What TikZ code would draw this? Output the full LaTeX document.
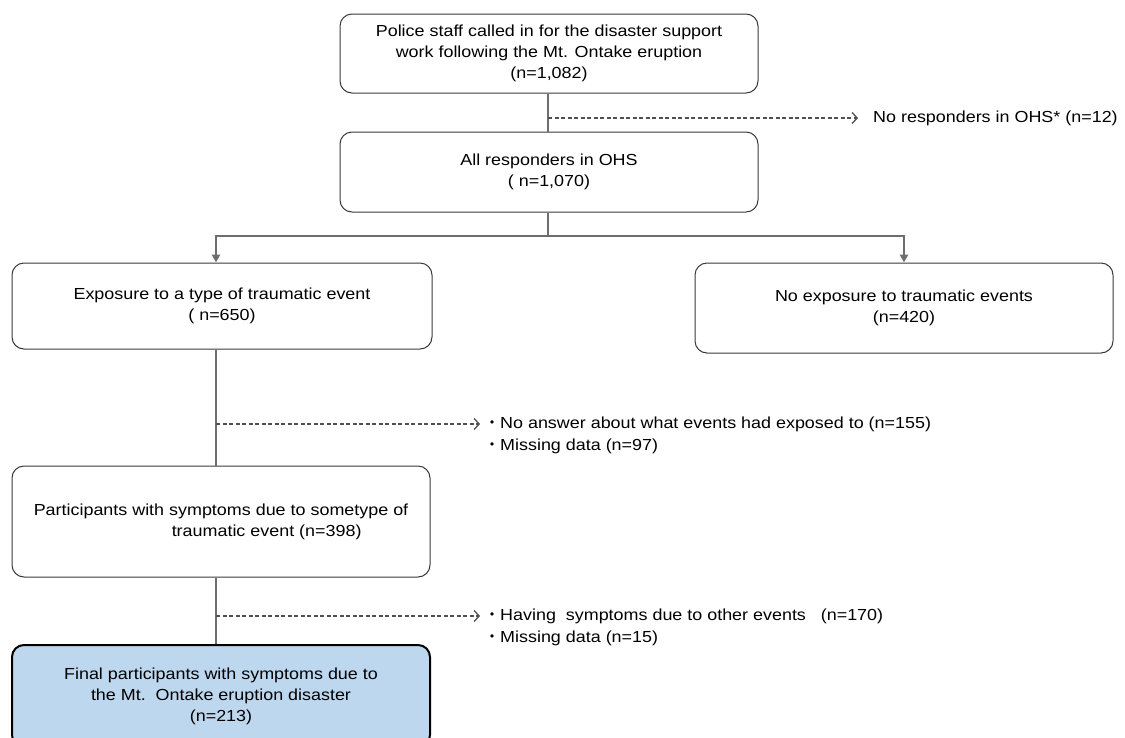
\documentclass[tikz,border=0pt]{standalone}
\usepackage{fontspec}
\setmainfont[FakeStretch=1.12]{Liberation Sans}
\newfontfamily\cjk{Noto Sans CJK JP}
\usetikzlibrary{arrows.meta}
\definecolor{conn}{HTML}{6E6E6E}
\definecolor{dconn}{HTML}{505050}
\definecolor{boxline}{HTML}{3A3A3A}
\definecolor{finalfill}{HTML}{BDD7EE}
\newcommand{\bul}{{\cjk ・}}
\tikzset{
  x=1pt, y=-1pt,
  every node/.style={font=\fontsize{16}{21}\selectfont, inner sep=0pt},
  box/.style={draw=boxline, line width=1pt, rounded corners=12pt, align=center, fill=white},
  finalbox/.style={box, draw=black, line width=2pt, fill=finalfill},
  solidconn/.style={draw=conn, line width=2pt},
  solidarr/.style={solidconn, -{Triangle[length=8pt,width=8pt]}},
  dashconn/.style={draw=dconn, line width=1.3pt, dash pattern=on 4pt off 2.5pt, -{Straight Barb[length=5pt,width=11pt,line width=1.3pt]}},
  note/.style={anchor=west, align=left},
}
\begin{document}
\begin{tikzpicture}
\useasboundingbox (0,0) rectangle (1125,737);
\clip (0,0) rectangle (1125,737);
% boxes
\node[box, minimum width=418pt, minimum height=79pt] (b1) at (549,53.5)
  {Police staff called in for the disaster support\\work following the Mt. Ontake eruption\\(n=1,082)};
\node[box, minimum width=418pt, minimum height=80pt] (b2) at (549,172)
  {All responders in OHS\\( n=1,070)};
\node[box, minimum width=420pt, minimum height=86pt] (b3) at (222,306)
  {Exposure to a type of traumatic event\\( n=650)};
\node[box, minimum width=418pt, minimum height=90pt] (b4) at (904,308)
  {No exposure to traumatic events\\(n=420)};
\node[box, minimum width=418pt, minimum height=111pt, align=left] (b5) at (221,521.5)
  {Participants with symptoms due to sometype of\\\hspace*{138pt}traumatic event (n=398)};
\node[finalbox, minimum width=418pt, minimum height=102pt] (b6) at (221,696)
  {Final participants with symptoms due to\\the Mt.\ \ Ontake eruption disaster\\(n=213)};
% reference coordinates
\coordinate (spine) at (216,0);
\coordinate (j) at (548,236);
\coordinate (d1) at (548,118);
\coordinate (e1) at (858,118);
\coordinate (d2) at (216,424);
\coordinate (e2) at (480,424);
\coordinate (d3) at (216,616);
\coordinate (e3) at (480,616);
% notes
\node[note] (n1) at (873,118) {No responders in OHS* (n=12)};
\node[note] (n2) at (484,424) {\bul No answer about what events had exposed to (n=155)};
\node[note] (n3) at (484,446) {\bul Missing data (n=97)};
\node[note] (n4) at (484,616) {\bul Having\ \ symptoms due to other events\ \ \ (n=170)};
\node[note] (n5) at (484,638) {\bul Missing data (n=15)};
% connectors
\draw[solidconn] (b1.south -| j) -- (b2.north -| j);
\draw[dashconn] (d1) -- (e1);
\draw[solidconn] (b2.south -| j) -- (j);
\draw[solidarr] (j) -| (b3.north -| spine);
\draw[solidarr] (j) -| (b4.north);
\draw[solidconn] (b3.south -| spine) -- (b5.north -| spine);
\draw[dashconn] (d2) -- (e2);
\draw[solidconn] (b5.south -| spine) -- (b6.north -| spine);
\draw[dashconn] (d3) -- (e3);
\end{tikzpicture}
\end{document}
